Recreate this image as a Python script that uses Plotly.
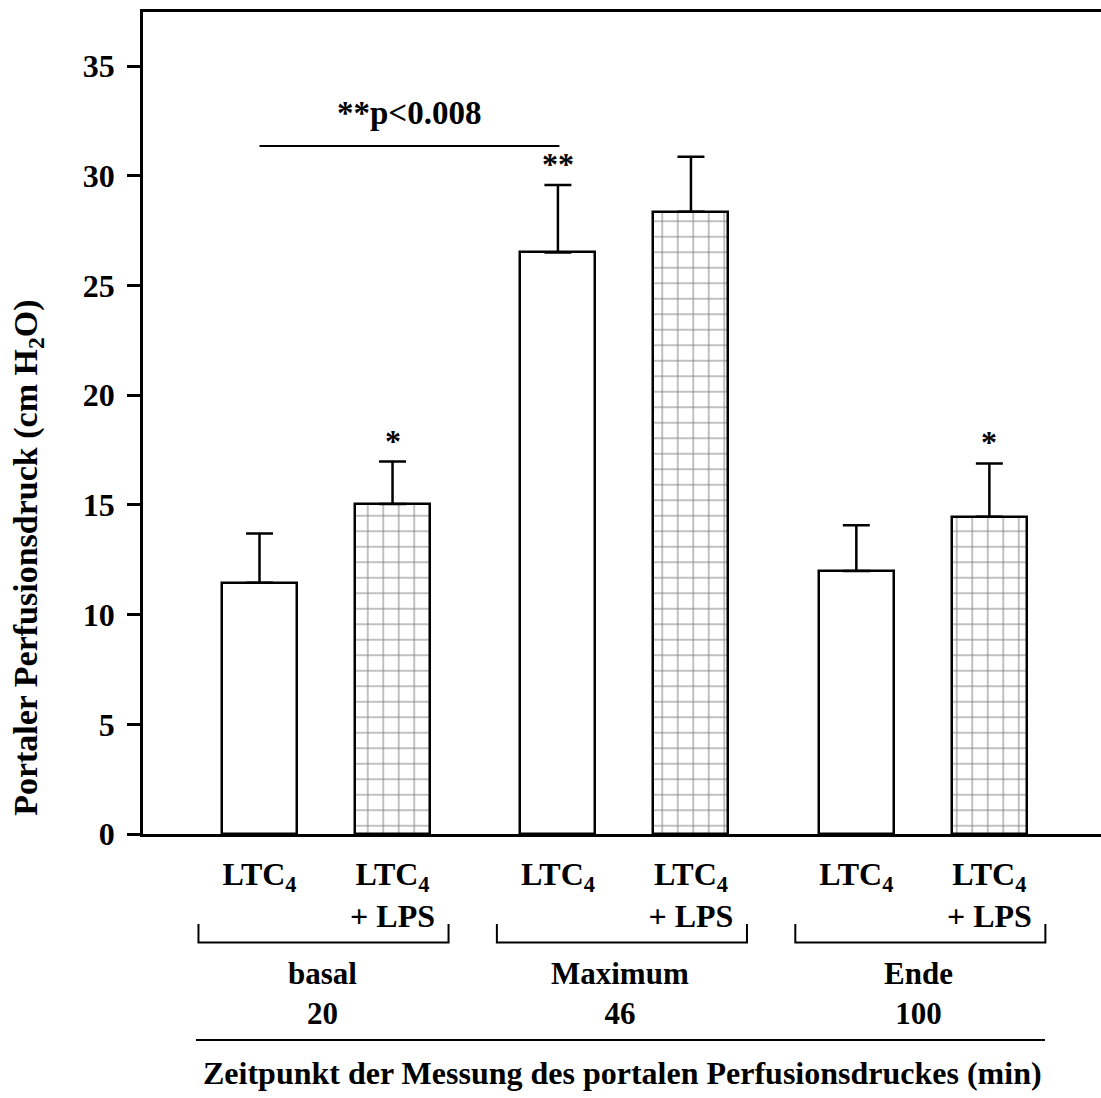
import plotly.graph_objects as go

# ---- data ----
groups = ["basal<br>20", "Maximum<br>46", "Ende<br>100"]
series_names = ["LTC<sub>4</sub>", "LTC<sub>4</sub><br>+ LPS"]
ltc4 = [11.45, 26.51, 11.99]
ltc4_err = [2.25, 3.07, 2.08]
ltc4_lps = [15.04, 28.36, 14.46]
ltc4_lps_err = [1.94, 2.51, 2.43]
ltc4_sig = ["", "**", ""]
ltc4_lps_sig = ["*", "", "*"]
y_ticks = [0, 5, 10, 15, 20, 25, 30, 35]
bracket_text = "**p<0.008"
y_title = "Portaler Perfusionsdruck (cm H<sub>2</sub>O)"
x_title = "Zeitpunkt der Messung des portalen Perfusionsdruckes (min)"

# ---- layout helpers ----
FONT = "Liberation Serif"
OFF = 0.2229
BW = 0.2513
XMIN, XMAX = -0.6133, 2.597
YMAX = 37.47

def f(size):
    return dict(family=FONT, size=size, color="black", weight="bold")

def xp(u):
    return (u - XMIN) / (XMAX - XMIN)

gidx = list(range(len(groups)))
x1 = [g - OFF for g in gidx]
x2 = [g + OFF for g in gidx]

fig = go.Figure()
fig.add_trace(go.Bar(
    x=x1, y=ltc4, width=BW,
    marker=dict(color="white", line=dict(color="black", width=2.5)),
    error_y=dict(type="data", array=ltc4_err, symmetric=False,
                 arrayminus=[0] * len(ltc4), color="black",
                 thickness=2.5, width=13.5),
    showlegend=False,
))
fig.add_trace(go.Bar(
    x=x2, y=ltc4_lps, width=BW,
    marker=dict(color="white", line=dict(color="black", width=2.5),
                pattern=dict(shape="+", size=15.5, solidity=0.12,
                             fgcolor="#000000", bgcolor="white")),
    error_y=dict(type="data", array=ltc4_lps_err, symmetric=False,
                 arrayminus=[0] * len(ltc4_lps), color="black",
                 thickness=2.5, width=13.5),
    showlegend=False,
))

annotations = []
# significance asterisks
for xs, vals, errs, sigs in [(x1, ltc4, ltc4_err, ltc4_sig),
                             (x2, ltc4_lps, ltc4_lps_err, ltc4_lps_sig)]:
    for x, v, e, s in zip(xs, vals, errs, sigs):
        if s:
            annotations.append(dict(x=x, y=v + e, xref="x", yref="y", text=s,
                                    showarrow=False, yanchor="bottom",
                                    yshift=1, font=f(32)))

# comparison bracket line
sig_y = 31.36
fig.add_shape(type="line", xref="x", yref="y", x0=x1[0], x1=x1[1] + 0.005,
              y0=sig_y, y1=sig_y, line=dict(color="black", width=2))
annotations.append(dict(x=(x1[0] + x1[1]) / 2, y=sig_y, xref="x", yref="y",
                        text=bracket_text, showarrow=False, yanchor="bottom",
                        yshift=13, font=f(33)))

# group labels and brackets
for g, lab in zip(gidx, groups):
    annotations.append(dict(x=g, y=-0.1946, xref="x", yref="paper", text=lab,
                            showarrow=False, yanchor="middle", xshift=-4,
                            font=f(31)))
    cx = g - 0.0084
    xa, xb = xp(cx - 0.419), xp(cx + 0.419)
    fig.add_shape(type="path", xref="paper", yref="paper",
                  path=f"M{xa},-0.1095 L{xa},-0.1320 L{xb},-0.1320 L{xb},-0.1095",
                  line=dict(color="black", width=2))

fig.add_shape(type="line", xref="paper", yref="paper", x0=0.0553, x1=0.9415,
              y0=-0.2506, y1=-0.2506, line=dict(color="black", width=2))

annotations.append(dict(x=xp(1.0), y=-0.2908, xref="paper", yref="paper",
                        text=x_title, showarrow=False, yanchor="middle",
                        xshift=-2, font=f(32)))
annotations.append(dict(x=-0.12, y=0.336, xref="paper", yref="paper",
                        text=y_title, showarrow=False, textangle=-90,
                        xanchor="center", yanchor="middle", font=f(34)))

fig.update_layout(
    width=1101, height=1098,
    margin=dict(l=143, r=0, t=12, b=264),
    plot_bgcolor="white", paper_bgcolor="white",
    annotations=annotations,
    bargap=0,
    xaxis=dict(range=[XMIN, XMAX], showgrid=False, zeroline=False,
               showline=True, linecolor="black", linewidth=2.5, mirror=True,
               tickvals=x1 + x2,
               ticktext=[series_names[0]] * 3 + [series_names[1]] * 3,
               ticks="", ticklabelstandoff=10, tickfont=f(32)),
    yaxis=dict(range=[0, YMAX], showgrid=False, zeroline=False,
               showline=True, linecolor="black", linewidth=2.5,
               tickvals=y_ticks, ticks="outside", ticklen=13, tickwidth=3,
               tickcolor="black", ticklabelstandoff=6, tickfont=f(32)),
)

fig.write_html("out.html")
